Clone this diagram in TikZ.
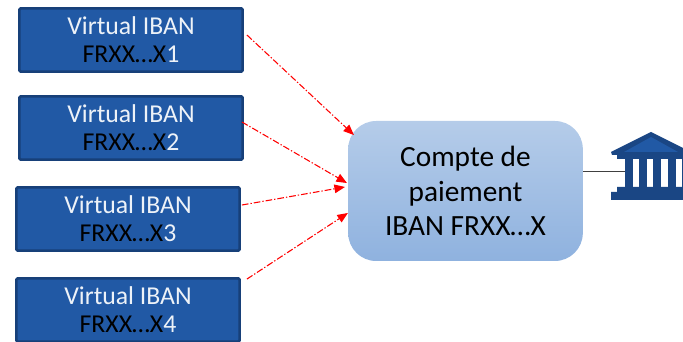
\documentclass[tikz,border=0pt]{standalone}
\usepackage{fontspec}
\setmainfont{Carlito}
\usetikzlibrary{arrows}
\definecolor{ibanfill}{HTML}{2159A5}
\definecolor{ibanline}{HTML}{174079}
\definecolor{bankblue}{HTML}{1A4684}
\definecolor{comptetop}{HTML}{B5CCE9}
\definecolor{comptebot}{HTML}{8FB2DF}
\tikzset{
  viban/.style={draw=ibanline,fill=ibanfill,line width=1.9pt,rounded corners=1pt,minimum width=167.5pt,minimum height=47.5pt,inner sep=0pt,align=center,text=white!92!ibanfill,font=\fontsize{19.3}{21}\selectfont},
  compte/.style={rounded corners=21pt,top color=comptetop,bottom color=comptebot,minimum width=176pt,minimum height=105pt,inner sep=0pt,align=center,text=black,font=\fontsize{22}{26}\selectfont},
  fleche/.style={->,>=triangle 45,color=red,line width=0.8pt,dash pattern=on 5pt off 1.5pt on 1pt off 1.5pt}
}
\newcommand{\frxx}{{\color{black}FRXX…X}}
\begin{document}
\begin{tikzpicture}[line cap=butt,line join=round,x=0.75pt,y=-0.75pt]
		\useasboundingbox (0,0) rectangle (683,342);
		\clip (0,0) rectangle (683,342);
		\node[viban] (viban1) at (131,40) {Virtual IBAN\\\frxx 1};
		\node[viban] (viban2) at (131,128) {Virtual IBAN\\\frxx 2};
		\node[viban] (viban3) at (128,219) {Virtual IBAN\\\frxx 3};
		\node[viban] (viban4) at (128,310) {Virtual IBAN\\\frxx 4};
		\node[compte] (compte) at (465.5,191) {Compte de\\paiement\\IBAN FRXX…X};
		\coordinate (bank) at (626,171);
		% the four links
		\draw[fleche] ([xshift=2.25pt,yshift=3.75pt]viban1.east) -- ([xshift=4.5pt,yshift=42pt]compte.west);
		\draw[fleche] ([xshift=-1.5pt,yshift=4.5pt]viban2.east) -- ([xshift=-0.75pt,yshift=6pt]compte.west);
		\draw[fleche] ([xshift=0.75pt,yshift=10.5pt]viban3.east) -- ([xshift=-2.25pt,yshift=3pt]compte.west);
		\draw[fleche] ([xshift=4.5pt,yshift=-1.5pt]viban4.north east) -- ([yshift=-16.5pt]compte.west);
		\draw[color=black!75,line width=0.6pt] ([yshift=15pt]compte.east) -- (bank);
		% bank icon
		\fill[color=bankblue] (651,132) -- (611,152) -- (612,155) -- (617,155) -- (617,159) -- (690,159) -- (690,155) -- (691,152) -- cycle;
		\fill[color=ibanfill] (651,137) -- (624,152) -- (678,152) -- cycle;
		\foreach \x in {625,639,653,668,682}
		\fill[color=bankblue] (\x,159) rectangle (\x+8,187);
		\fill[color=bankblue] (617,187) -- (690,187) -- (690,192) -- (691,200) -- (611,200) -- (611,192) -- (617,192) -- cycle;
\end{tikzpicture}
\end{document}
